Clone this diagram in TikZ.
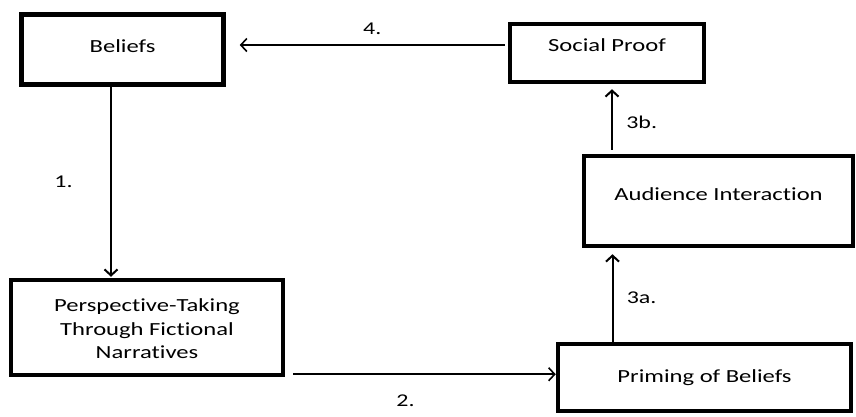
\documentclass[tikz,border=0pt]{standalone}
\usepackage{fontspec}
\setmainfont[FakeStretch=1.33, Ligatures=NoCommon]{Carlito}
\usetikzlibrary{arrows.meta}

\begin{document}
\begin{tikzpicture}[x=1pt, y=-1pt,
    box/.style={draw, line width=4.5pt, align=center, inner sep=0pt,
                font=\fontsize{18.5}{23.5}\selectfont},
    arr/.style={-{Straight Barb[length=6pt, width=13pt]}, line width=2pt},
    lbl/.style={font=\fontsize{18}{20}\selectfont}
]
    \useasboundingbox (0,0) rectangle (856,416);

    % Boxes
    \node at (122.5, 49.5) [box, minimum width=202pt, minimum height=70pt, text depth=6pt] (beliefs) {Beliefs};
    \node at (607, 53) [box, minimum width=194pt, minimum height=58pt, text depth=16pt] (social) {Social Proof};
    \node at (718.5, 201) [box, minimum width=269pt, minimum height=90pt, text depth=13pt] (audience) {Audience Interaction};
    \node at (704.5, 377.5) [box, minimum width=293pt, minimum height=67pt] (priming) {Priming of Beliefs};
    \node at (147, 327.5) [box, minimum width=272pt, minimum height=95pt] (persp)
        {\\[-8pt]Perspective-Taking\\Through Fictional\\Narratives};

    % Step 1: beliefs down to perspective-taking
    \draw[arr] ([xshift=-11.5pt]beliefs.south) -- node[lbl, left=34pt] {1.}
        ([xshift=-11.5pt, yshift=1pt]beliefs.south |- persp.north);

    % Step 2: perspective-taking over to priming
    \draw[arr, line width=1.6pt] ([xshift=8pt, yshift=3pt]persp.south east)
        -- node[lbl, below=16pt, xshift=-19pt] {2.} ([yshift=3pt]persp.south east -| priming.west);

    % Step 3a and 3b: up the right column
    \draw[arr] ([xshift=-92pt]priming.north) -- node[lbl, right=10pt] {3a.}
        ([xshift=-92pt, yshift=-6pt]priming.north |- audience.south);
    \draw[arr] ([xshift=-106.5pt, yshift=4pt]audience.north) -- node[lbl, right=10pt, yshift=-3pt] {3b.}
        ([xshift=-106.5pt, yshift=-5pt]audience.north |- social.south);

    % Step 4: social proof back to beliefs
    \draw[arr, line width=1.6pt] ([xshift=-3pt, yshift=8pt]social.west)
        -- node[lbl, above=6pt] {4.} ([xshift=14pt, yshift=8pt]social.west -| beliefs.east);
\end{tikzpicture}
\end{document}
